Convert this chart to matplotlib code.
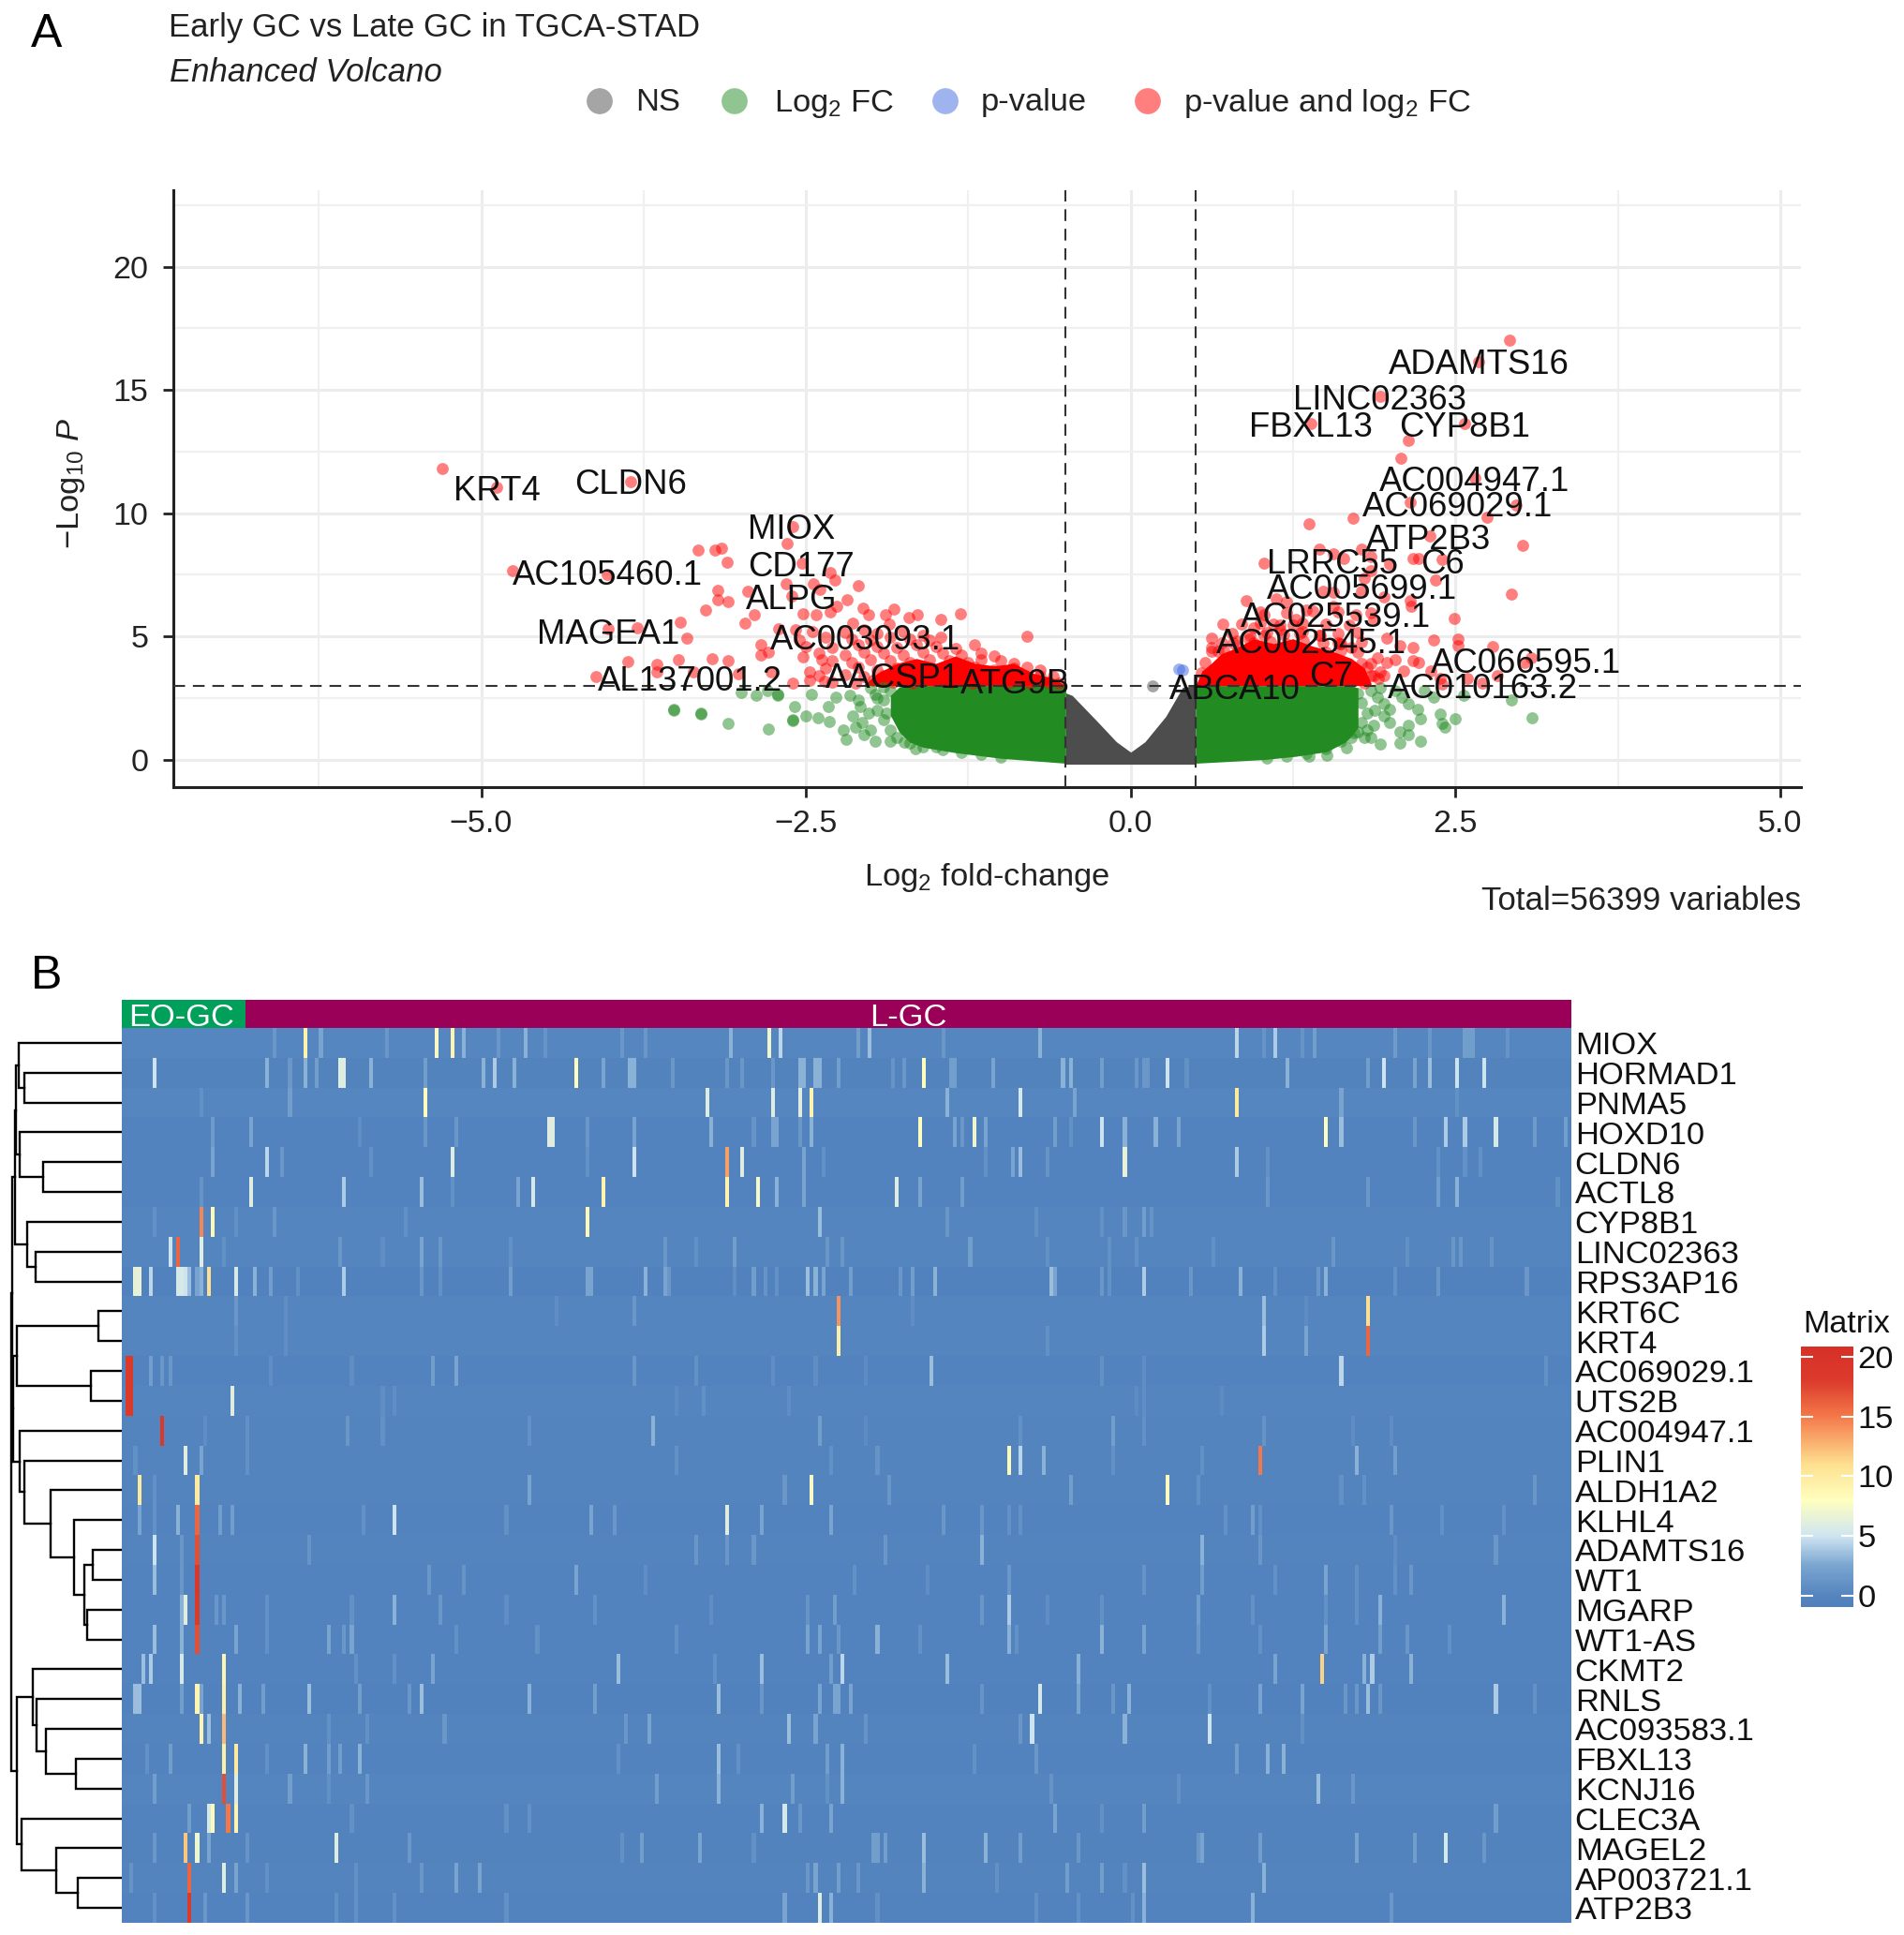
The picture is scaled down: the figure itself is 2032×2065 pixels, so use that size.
import matplotlib
matplotlib.use('Agg')
import matplotlib.pyplot as plt
from matplotlib.colors import LinearSegmentedColormap, Normalize
import numpy as np

plt.rcParams['font.family'] = ['Liberation Sans', 'DejaVu Sans']
plt.rcParams['mathtext.fontset'] = 'custom'
plt.rcParams['mathtext.rm'] = 'Liberation Sans'
plt.rcParams['mathtext.it'] = 'Liberation Sans:italic'
plt.rcParams['mathtext.default'] = 'regular'

W, H = 2032, 2065

# ---- volcano: single points
red_x = [-5.3, -4.88, -3.85, -4.76, -4.03, -3.33, -3.2, -3.15, -3.11, -2.6, -2.645, -2.53, -2.31, -2.28, -2.1,
         -2.65, -2.44, -2.39, -3.18, -3.18, -3.1, -2.95, -3.27, -2.61, -2.18, -2.26, -2.31, -2.06, -1.82, -1.31,
         -2.52, -2.42, -2.9, -2.97, -3.47, -3.42, -3.8, -4.02, -1.46, -1.64, -1.71, -1.89, -2.02, -2.14, -1.86,
         -0.8, -1.2, -1.46, -2.71, -2.58, -2.85, -2.79, -2.85, -3.87, -3.48, -3.22, -3.1, -3.65, -3.65, -3.37,
         -4.12, -3.02, -2.77, -2.6, -2.52, -2.47, -2.47, -2.38, -2.36,
         -2.45, -2.2, -2.05, -1.95, -1.75, -1.6, -2.55, -2.35, -2.15, -2.0, -1.85, -1.7, -1.55,
         -2.5, -2.3, -2.1, -1.95, -1.8, -1.65, -1.5, -1.35, -2.4, -2.2, -2.05, -1.9, -1.75, -1.6, -1.45, -1.3, -1.15, -1.05,
         -2.3, -2.15, -2.0, -1.85, -1.7, -1.55, -1.4, -1.25, -1.15, -1.0, -0.9,
         -2.35, -2.1, -1.95, -1.8, -1.65, -1.5, -1.35, -1.2, -1.05, -0.9, -0.8, -0.7,
         -2.4, -2.2, -2.05, -1.9, -1.75, -1.6, -1.45, -1.3, -1.15, -1.0, -0.85, -0.7, -0.6,
         -2.3, -2.12, -1.98, -1.83, -1.68, -1.52, -1.38, -1.22, -1.08, -0.93, -0.78, -0.63, -0.55,
         2.92, 2.68, 1.92, 2.57, 1.39, 2.14, 2.08, 2.65, 2.15, 2.97, 2.74, 1.71, 1.37, 2.3, 3.02, 1.45, 1.78, 1.56,
         1.03, 1.64, 1.85, 2.17, 2.22, 2.4, 1.99, 1.85, 2.35, 1.8, 2.93, 1.48, 1.56, 1.78, 1.95, 2.15, 2.16, 0.89,
         1.12, 1.2, 2.49, 1.4, 1.56, 1.87, 0.71, 1.03, 1.27, 1.73, 0.62, 1.97, 2.33, 2.52, 2.52, 2.17, 2.79, 2.07,
         0.62, 1.97, 2.17, 2.22, 3.08, 3.03, 2.1, 2.04, 1.9, 2.31, 1.91, 2.38, 2.59, 2.71, 2.82, 2.4,
         0.57, 0.67, 0.79, 0.91, 1.03, 1.15, 1.32, 1.46, 1.61, 1.75, 1.85, 0.54, 1.87, 1.7, 1.6, 0.95, 1.1, 1.25,
         0.62, 0.72, 0.82, 0.95, 1.08, 1.22, 1.35, 1.5, 1.62,
         0.7, 0.82, 0.95, 1.08, 1.2, 1.33, 1.48, 1.62, 1.78,
         0.78, 0.92, 1.05, 1.18, 1.3, 1.45, 1.6, 1.75,
         0.85, 1.0, 1.15, 1.32, 1.5, 1.68,
         1.0, 1.2, 1.35, 1.6, 1.85,
         1.7, 1.78, 1.85, 1.92, 1.75, 1.82, 1.68, 1.8, 1.95]
red_y = [11.82, 11.03, 11.29, 7.67, 7.5, 8.49, 8.49, 8.58, 8.02, 9.44, 8.75, 7.98, 7.6, 7.29, 7.06,
         7.14, 7.12, 6.9, 6.87, 6.49, 6.39, 6.82, 6.05, 6.65, 6.49, 6.21, 5.98, 6.15, 6.11, 5.93,
         5.92, 5.89, 5.89, 5.55, 5.58, 4.92, 5.35, 5.3, 5.67, 5.89, 5.77, 5.89, 5.89, 5.55, 5.51,
         5.0, 4.66, 4.97, 5.32, 5.27, 4.66, 4.37, 4.25, 3.97, 4.06, 4.08, 4.03, 3.87, 3.55, 3.55,
         3.36, 3.48, 3.55, 3.1, 4.18, 3.55, 3.23, 4.05, 3.16,
         5.2, 5.15, 5.25, 5.1, 5.2, 5.05, 4.85, 4.95, 4.9, 4.85, 4.95, 4.9, 4.85,
         4.6, 4.55, 4.65, 4.6, 4.55, 4.65, 4.6, 4.5, 4.3, 4.25, 4.35, 4.3, 4.25, 4.35, 4.3, 4.25, 4.3, 4.2,
         4.0, 3.95, 4.05, 4.0, 3.95, 4.05, 4.0, 3.95, 4.05, 4.0, 3.9,
         3.7, 3.75, 3.65, 3.7, 3.75, 3.65, 3.7, 3.75, 3.65, 3.7, 3.75, 3.65,
         3.4, 3.45, 3.35, 3.4, 3.45, 3.35, 3.4, 3.45, 3.35, 3.4, 3.45, 3.4, 3.35,
         3.15, 3.1, 3.2, 3.15, 3.1, 3.2, 3.15, 3.1, 3.2, 3.15, 3.1, 3.15, 3.1,
         17.01, 16.16, 14.73, 13.62, 13.62, 12.93, 12.23, 11.41, 10.42, 10.33, 9.82, 9.8, 9.57, 9.06, 8.68, 8.55, 8.55, 8.36,
         7.98, 8.14, 8.24, 8.17, 8.14, 8.11, 7.92, 7.67, 7.29, 7.35, 6.72, 6.84, 6.78, 6.84, 6.59, 6.46, 6.21, 6.46,
         6.53, 6.4, 5.74, 6.02, 6.21, 5.7, 5.51, 5.89, 5.7, 5.89, 4.94, 4.94, 4.85, 4.88, 4.63, 4.56, 4.59, 4.63,
         4.56, 3.93, 4.03, 3.95, 4.12, 3.93, 3.61, 4.05, 4.12, 3.61, 3.3, 3.3, 3.3, 3.1, 3.42, 3.05,
         3.93, 4.4, 4.75, 4.9, 5.05, 5.25, 5.2, 5.05, 4.7, 4.35, 3.9, 3.5, 3.4, 4.55, 4.75, 5.35, 5.5, 5.45,
         4.4, 4.45, 4.35, 4.42, 4.38, 4.45, 4.4, 4.35, 4.42,
         4.75, 4.8, 4.72, 4.78, 4.7, 4.8, 4.75, 4.7, 4.78,
         5.1, 5.05, 5.15, 5.08, 5.12, 5.05, 5.1, 5.15,
         5.5, 5.55, 5.45, 5.52, 5.5, 5.45,
         6.0, 5.95, 6.05, 6.0, 5.95,
         3.6, 3.9, 3.4, 3.55, 3.25, 3.75, 3.3, 3.1, 3.4]
green_x = [1.85, 1.95, 1.99, 1.95, 2.09, 2.14, 2.21, 2.23, 2.14, 2.07, 1.99, 1.87, 1.92, 2.07, 2.23, 2.14, 2.38, 2.4,
           2.42, 2.5, 2.93, 3.09, 2.56, 2.33, 2.26, 1.85, 1.66, 1.75, 2.04, 1.9, 1.51, 1.37, 1.8,
           1.75, 1.78, 1.82, 1.78, 1.72, 1.62, 1.5, 1.35, 1.2, 1.05, 1.82, 1.88, 1.7, 1.92,
           -3.52, -3.52, -3.31, -3.31, -3.1, -2.79, -3.0, -2.88, -2.72, -2.72, -2.8, -2.6, -2.6, -2.59, -2.5, -2.41, -2.32,
           -2.46, -2.33, -2.27, -2.16, -2.21, -2.19, -2.14, -2.07, -1.97, -2.08, -1.97, -1.74, -1.66, -1.5,
           -1.85, -1.9, -1.95, -1.9, -1.85, -1.8, -1.7, -1.6, -1.45, -1.3, -1.15, -1.0,
           -2.0, -1.95, -1.88, -2.02, -2.1, -2.0, -1.9, -2.12, -2.05, -1.85]
green_y = [2.79, 2.28, 2.03, 1.77, 2.53, 2.28, 2.03, 1.65, 1.39, 1.14, 1.52, 1.39, 0.63, 0.66, 0.73, 1.01, 1.84, 1.46,
           1.33, 1.65, 2.43, 1.7, 2.6, 2.53, 2.79, 0.89, 0.48, 1.14, 2.79, 2.53, 0.19, 0.13, 0.89,
           2.7, 2.3, 1.9, 1.5, 1.1, 0.75, 0.45, 0.25, 0.12, 0.05, 1.2, 2.0, 0.9, 2.9,
           2.0, 2.05, 1.84, 1.88, 1.48, 1.23, 2.72, 2.6, 2.66, 2.62, 2.79, 1.58, 1.62, 2.15, 1.77, 1.71, 1.55,
           2.66, 2.15, 2.53, 2.6, 1.2, 0.82, 1.77, 1.52, 0.76, 2.15, 2.66, 0.7, 0.44, 0.5,
           2.8, 2.4, 2.0, 1.6, 1.2, 0.9, 0.65, 0.5, 0.4, 0.3, 0.2, 0.1,
           1.2, 2.5, 1.9, 1.9, 2.4, 2.9, 2.95, 1.3, 1.0, 0.75]
blue_x = [0.37, 0.4]
blue_y = [3.67, 3.62]
ns_x = [0.17]
ns_y = [2.98]

# ---- volcano: outline of the solid clouds
gray_x = [-0.5, -0.45, -0.26, -0.11, 0.0, 0.11, 0.27, 0.4, 0.5]
gray_top = [2.7, 2.6, 1.56, 0.72, 0.3, 0.72, 1.75, 2.93, 3.0]
gray_bottom = [-0.19, -0.19, -0.19, -0.19, -0.19, -0.19, -0.19, -0.19, -0.19]
green_left_x = [-1.85, -1.78, -1.7, -1.6, -1.35, -1.0, -0.5]
green_left_top = [2.6, 2.95, 3.0, 3.0, 3.0, 3.0, 3.0]
green_left_bottom = [1.8, 1.1, 0.7, 0.5, 0.28, 0.05, -0.15]
green_right_x = [0.5, 1.03, 1.27, 1.51, 1.65, 1.7, 1.75]
green_right_top = [3.0, 3.0, 3.0, 3.0, 3.0, 3.0, 2.9]
green_right_bottom = [-0.15, 0.0, 0.13, 0.32, 0.7, 0.95, 1.3]
red_left_x = [-2.05, -1.95, -1.8, -1.65, -1.5, -1.35, -1.2, -1.05, -0.9, -0.75, -0.6, -0.5]
red_left_top = [3.05, 3.5, 3.9, 4.1, 3.9, 4.2, 3.9, 3.8, 3.9, 3.5, 3.3, 3.0]
red_right_x = [0.5, 0.55, 0.62, 0.7, 0.8, 0.95, 1.1, 1.25, 1.4, 1.55, 1.7, 1.8, 1.85]
red_right_top = [3.0, 3.6, 3.9, 4.3, 4.5, 4.9, 4.7, 4.9, 4.6, 4.4, 4.1, 3.7, 3.1]

gene_names = ['KRT4', 'CLDN6', 'MIOX', 'CD177', 'ALPG', 'AC105460.1', 'MAGEA1', 'AC003093.1', 'AL137001.2',
              'AACSP1', 'ATG9B', 'ABCA10', 'C7', 'AC002545.1', 'AC025539.1', 'AC005699.1', 'LRRC55', 'C6',
              'ATP2B3', 'AC069029.1', 'AC004947.1', 'CYP8B1', 'FBXL13', 'LINC02363', 'ADAMTS16',
              'AC066595.1', 'AC010163.2']
gene_x = [-4.88, -3.85, -2.61, -2.54, -2.61, -4.03, -4.02, -2.04, -3.39, -1.83, -0.89, 0.8, 1.54, 1.39, 1.58, 1.78,
          1.55, 2.4, 2.29, 2.52, 2.65, 2.57, 1.39, 1.92, 2.68, 3.04, 2.71]
gene_y = [11.03, 11.29, 9.47, 7.95, 6.6, 7.6, 5.21, 4.98, 3.31, 3.42, 3.19, 2.98, 3.49, 4.82, 5.89, 7.03,
          8.05, 8.05, 9.06, 10.39, 11.41, 13.62, 13.62, 14.73, 16.16, 4.03, 3.0]

# ---- heatmap
row_names = ['MIOX', 'HORMAD1', 'PNMA5', 'HOXD10', 'CLDN6', 'ACTL8', 'CYP8B1', 'LINC02363', 'RPS3AP16', 'KRT6C',
             'KRT4', 'AC069029.1', 'UTS2B', 'AC004947.1', 'PLIN1', 'ALDH1A2', 'KLHL4', 'ADAMTS16', 'WT1', 'MGARP',
             'WT1-AS', 'CKMT2', 'RNLS', 'AC093583.1', 'FBXL13', 'KCNJ16', 'CLEC3A', 'MAGEL2', 'AP003721.1', 'ATP2B3']
n_cols = 375
group_sizes = [32, 343]
row_base = [0.1, -0.3, 0.1, -0.2, -0.2, -0.2, 0, 0, -0.5, 0.05, 0.05, -0.2, 0, -0.1, -0.1,
            -0.1, -0.2, -0.1, -0.2, -0.2, -0.2, -0.2, -0.45, -0.1, -0.2, 0, -0.2, -0.3, -0.1, -0.2]
# (sample column, value) for the stripes that stand out in each row
row_stripes = [
    [(39, 1.5), (47, 9), (51, 2.5), (68, 1.5), (81, 7.5), (85, 9), (88, 3), (97, 1.5), (104, 3), (109, 1.2), (129, 1.5),
     (135, 1.5), (157, 3), (167, 7), (170, 4.5), (190, 2), (193, 3.5), (212, 1.5), (237, 3), (288, 4.5), (295, 1.2),
     (298, 4), (308, 2), (305, 1.2), (329, 1.8), (338, 1.5), (347, 2), (348, 2), (349, 2), (358, 1.2)],
    [(8, 5), (37, 3), (43, 1.5), (47, 3), (50, 2), (56, 6), (57, 6), (64, 3), (78, 2), (93, 3), (96, 4), (101, 3),
     (117, 8), (124, 2.5), (132, 3), (131, 3), (142, 1.5), (156, 1.5), (160, 1.5), (168, 1.5), (175, 3), (176, 3),
     (180, 3), (179, 3), (185, 2), (199, 1.2), (202, 1.5), (207, 8), (214, 2), (215, 2), (225, 2.5), (243, 3), (245, 3),
     (253, 2), (264, 1.5), (262, 1.5), (265, 1.5), (270, 5), (275, 1), (301, 3), (322, 2), (326, 5), (334, 2.5),
     (338, 3.5), (345, 5), (352, 5)],
    [(43, 2), (20, 1), (78, 8), (151, 6), (168, 6), (175, 6), (178, 9), (213, 3), (232, 5.5), (246, 2.5), (288, 10),
     (315, 2.5), (345, 1)],
    [(23, 1.8), (33, 2.5), (78, 1.5), (86, 1.5), (110, 6), (111, 6), (120, 1.5), (61, 0.8), (132, 2.5), (152, 3),
     (163, 1.2), (168, 2.5), (169, 2.5), (175, 1.5), (178, 3), (206, 8), (215, 2.5), (217, 1.5), (220, 7), (223, 2.5),
     (241, 2), (245, 1), (253, 5), (259, 3), (267, 3), (273, 2.5), (311, 8), (315, 3.5), (334, 1.5), (342, 4), (347, 4),
     (355, 5.5), (365, 1.8), (373, 2)],
    [(23, 2.5), (37, 4.5), (41, 1.5), (64, 1), (85, 6), (120, 1), (132, 5), (156, 13.5), (160, 6), (176, 2.5), (181, 1),
     (223, 1), (230, 2.5), (232, 3.5), (239, 1.2), (259, 6.5), (288, 4), (296, 1), (340, 1), (347, 1), (351, 1)],
    [(20, 1.2), (33, 6), (57, 4), (77, 3.5), (85, 1), (102, 2.5), (106, 5.5), (124, 9), (156, 9), (164, 7.5), (169, 3),
     (176, 2.5), (200, 6), (206, 2.5), (217, 2), (296, 1.5), (322, 1.5), (340, 2), (345, 3), (371, 1)],
    [(8, 1), (20, 14.5), (23, 8.5), (29, 1), (39, 1.5), (73, 1), (120, 8.5), (180, 3.5), (213, 1.5), (236, 1), (259, 1.5),
     (264, 2), (266, 1.2), (253, 1)],
    [(12, 5), (14, 16), (20, 6), (26, 1), (56, 1.5), (77, 2.5), (82, 1.5), (67, 0.8), (100, 1), (140, 1.5), (148, 1),
     (158, 2), (182, 1.5), (186, 1.5), (219, 2), (239, 1), (255, 1), (262, 1), (282, 1), (313, 1.5), (332, 1), (344, 1.5),
     (346, 1.5), (354, 1.2)],
    [(3, 6.5), (4, 6.5), (7, 4.5), (14, 5.5), (15, 5.5), (16, 5), (17, 3.5), (19, 2.5), (20, 3), (22, 11), (29, 5.5),
     (34, 3), (38, 2), (45, 1), (57, 4), (77, 1.5), (82, 1), (100, 2), (120, 2.5), (121, 2.5), (135, 3), (140, 2.5),
     (141, 1.5), (158, 0.8), (163, 2), (166, 1.2), (169, 1), (177, 3.5), (179, 3), (181, 2.5), (188, 2), (201, 1.5),
     (204, 2), (210, 3), (240, 3.5), (241, 2.5), (253, 1.5), (255, 1), (264, 4), (276, 1.5), (289, 3), (298, 1),
     (309, 1.5), (311, 3), (329, 1), (340, 1.5), (363, 1.5)],
    [(29, 1.5), (42, 0.8), (112, 0.8), (132, 1.5), (185, 14), (204, 0.8), (295, 3.5), (306, 0.6), (322, 11)],
    [(29, 1), (42, 0.8), (185, 9.5), (239, 1), (295, 4), (306, 2.5), (322, 16)],
    [(1, 18), (2, 18), (7, 2), (10, 1.5), (12, 1.5), (38, 0.8), (59, 0.8), (80, 2), (86, 2.5), (132, 1.5), (148, 1),
     (168, 0.8), (179, 0.8), (192, 0.6), (209, 3.5), (253, 1), (264, 0.8), (315, 4.5), (368, 1)],
    [(1, 18), (2, 18), (28, 6), (67, 0.8), (70, 0.8), (143, 0.6), (150, 1), (172, 0.8), (262, 0.6), (264, 0.8), (284, 0.6)],
    [(10, 18.5), (21, 0.8), (32, 1), (58, 1.5), (67, 1), (105, 1), (137, 3), (180, 2), (192, 0.6), (232, 1), (256, 2),
     (264, 1), (295, 1.2), (318, 0.8), (328, 0.8)],
    [(3, 1), (16, 6), (20, 2.5), (32, 1), (143, 1), (183, 1), (195, 1.2), (229, 8.5), (232, 4.5), (238, 3), (256, 1),
     (279, 1), (294, 15), (319, 3), (329, 2)],
    [(4, 10), (8, 1), (19, 10), (105, 2.5), (171, 1.5), (178, 7.5), (198, 1.5), (245, 2), (270, 8), (278, 1), (315, 1),
     (321, 1), (365, 1.5)],
    [(4, 2.5), (8, 1), (14, 3), (19, 16), (25, 2), (28, 2), (62, 1), (70, 5), (99, 1), (121, 2.5), (127, 1.5), (156, 6),
     (165, 2.5), (183, 2.5), (212, 1.5), (222, 1.5), (229, 1), (232, 1), (285, 1), (292, 2), (294, 1), (328, 1.5),
     (341, 1), (357, 1)],
    [(8, 5), (15, 1.5), (19, 17), (48, 1.2), (148, 1.5), (156, 1.5), (163, 1.5), (197, 1.5), (222, 3), (279, 3), (294, 1.5),
     (329, 0.8), (355, 1.5)],
    [(8, 3.5), (15, 1.5), (19, 19), (79, 1.5), (88, 1.2), (117, 2.5), (135, 0.8), (189, 1), (208, 0.8), (229, 1.5),
     (264, 1.2), (279, 2), (298, 1), (311, 2.5), (319, 1), (329, 1), (333, 1.5)],
    [(15, 3), (16, 6), (19, 18), (24, 1.5), (26, 1.5), (37, 1), (59, 1), (70, 3), (82, 1.5), (99, 0.8), (122, 1), (152, 0.8),
     (177, 1.2), (184, 2), (222, 1.5), (229, 4), (239, 0.8), (253, 1), (278, 2), (292, 1), (311, 1), (319, 1), (325, 3),
     (357, 3)],
    [(8, 3.5), (15, 3), (19, 17), (29, 2.5), (37, 1), (53, 2.5), (57, 1.5), (59, 2.5), (86, 1), (107, 1), (143, 1),
     (177, 2.5), (180, 2.5), (185, 1.5), (195, 3), (206, 1), (229, 3), (231, 1), (253, 3), (264, 2.5), (278, 1.5), (294, 1),
     (311, 2.5), (325, 2), (332, 1.5), (343, 1)],
    [(5, 3.5), (7, 4), (15, 5.5), (26, 9), (60, 1), (70, 1), (80, 2.5), (128, 3.5), (153, 1), (165, 3.5), (183, 2),
     (186, 4.5), (213, 3.5), (247, 3), (298, 2.5), (310, 11.5), (321, 3), (323, 4), (333, 3)],
    [(3, 3.5), (4, 3.5), (15, 2), (19, 9), (20, 2.5), (26, 9.5), (30, 3), (36, 2), (48, 3.5), (61, 2), (74, 1.5), (77, 3.5),
     (105, 3), (122, 2), (154, 3.5), (165, 1.5), (180, 2.5), (184, 2.5), (185, 2.5), (188, 2.5), (222, 1.2), (237, 5.5),
     (247, 2.5), (256, 1.5), (260, 3), (281, 1), (294, 2.5), (305, 2.5), (316, 1.5), (319, 1.5), (322, 3.5), (325, 1.5),
     (355, 4), (365, 1)],
    [(20, 9), (22, 3.5), (26, 12.5), (53, 1), (63, 1), (83, 1.5), (130, 1.5), (136, 2.5), (172, 3.5), (179, 2.5), (192, 1.2),
     (232, 1.5), (235, 5), (259, 3), (281, 5), (305, 1)],
    [(6, 1), (12, 2), (26, 9.5), (29, 10), (37, 1), (47, 3), (53, 2), (56, 2), (61, 3), (128, 1), (154, 3.5), (159, 1),
     (182, 2), (186, 3), (220, 1), (236, 1.5), (288, 2), (296, 3), (300, 3)],
    [(8, 2), (26, 17), (29, 6), (43, 2), (53, 1), (63, 1.5), (138, 2), (154, 3), (173, 2), (182, 1), (186, 3), (240, 1.2),
     (273, 1), (309, 3.5), (318, 1.5)],
    [(17, 2), (22, 5.5), (23, 8.5), (27, 15), (29, 9), (59, 1), (99, 1), (105, 1), (165, 3), (171, 5.5), (175, 1.5),
     (183, 2.5), (241, 2.5), (253, 1), (264, 2), (355, 2)],
    [(8, 1.5), (16, 12), (19, 7), (22, 2.5), (32, 1.2), (55, 6), (74, 1.5), (129, 1), (134, 2), (149, 2.5), (163, 1),
     (194, 2), (195, 2), (197, 2), (207, 3.5), (223, 3), (232, 2), (247, 1.5), (278, 1.5), (279, 2.5), (294, 2), (319, 2.5),
     (334, 2), (342, 5.5), (352, 1.5)],
    [(2, 1.2), (17, 16), (26, 6), (29, 2.5), (37, 1), (60, 1), (77, 1.5), (86, 2.5), (92, 2.5), (177, 1.5), (179, 2.5),
     (185, 2), (190, 1.5), (207, 3), (226, 1), (244, 2), (253, 2), (259, 1), (264, 3.5), (295, 3)],
    [(8, 1), (17, 18), (21, 1.5), (32, 1.5), (55, 1), (60, 1), (70, 1), (99, 1), (171, 2.5), (180, 6), (183, 3), (195, 1),
     (236, 1), (247, 1), (261, 1), (264, 3), (292, 3), (328, 1.5)],
]
cbar_ticks = [0, 5, 10, 15, 20]
cmap_values = [-0.94, 0, 2.5, 5, 8, 11, 15, 18, 20.86]
cmap_colors = ['#4F80BC', '#5585BF', '#7AA5D0', '#CFE5F1', '#FFFFBF', '#FEE090', '#F4794A', '#DC3B2C', '#D73027']

# dendrogram merges, (child, child, height); leaves are 0-29, each merge takes the next id
merges = [(1, 2, 232), (0, 30, 247), (4, 5, 189), (3, 32, 244), (31, 33, 254), (7, 8, 205), (6, 35, 226), (34, 36, 256),
          (9, 10, 57), (11, 12, 74), (38, 39, 252), (17, 18, 70), (19, 20, 82), (41, 42, 90), (16, 43, 114), (15, 44, 170),
          (14, 45, 234), (13, 46, 244), (40, 47, 259), (37, 48, 262), (24, 25, 109), (23, 50, 182), (22, 51, 204),
          (21, 52, 212), (28, 29, 105), (27, 54, 157), (26, 55, 240), (53, 56, 252), (49, 57, 264)]


def px_axes(fig, left, top, right, bottom):
    return fig.add_axes([left / W, 1 - bottom / H, (right - left) / W, (bottom - top) / H])


fig = plt.figure(figsize=(W / 100, H / 100), dpi=100)

# ---- panel A
ax = px_axes(fig, 185, 203, 1922, 840)
ax.set_xlim(-7.37, 5.16)
ax.set_ylim(-1.12, 23.1)
ax.set_axisbelow(True)
ax.set_xticks([-5, -2.5, 0, 2.5, 5])
ax.set_xticklabels(['\u22125.0', '\u22122.5', '0.0', '2.5', '5.0'])
ax.set_yticks([0, 5, 10, 15, 20])
ax.set_xticks([-6.25, -3.75, -1.25, 1.25, 3.75], minor=True)
ax.set_yticks([2.5, 7.5, 12.5, 17.5, 22.5], minor=True)
ax.grid(which='major', color='#ECECEC', lw=2.2)
ax.grid(which='minor', color='#F0F0F0', lw=1.6)
ax.tick_params(which='major', labelsize=24.5, length=8, width=2, color='#222222', labelcolor='#222222')
ax.tick_params(axis='x', which='major', pad=9)
ax.tick_params(axis='y', which='major', pad=11)
ax.tick_params(which='minor', length=0)
for s in ['top', 'right']:
    ax.spines[s].set_visible(False)
for s in ['left', 'bottom']:
    ax.spines[s].set_linewidth(2.2)
    ax.spines[s].set_color('#222222')

ax.fill_between(gray_x, gray_bottom, gray_top, color='#4D4D4D', lw=0, zorder=2)
ax.fill_between(green_left_x, green_left_bottom, green_left_top, color='#228B22', lw=0, zorder=2)
ax.fill_between(green_right_x, green_right_bottom, green_right_top, color='#228B22', lw=0, zorder=2)
ax.fill_between(red_left_x, 3.0, red_left_top, color='#FF0000', lw=0, zorder=2)
ax.fill_between(red_right_x, 3.0, red_right_top, color='#FF0000', lw=0, zorder=2)
ax.scatter(green_x, green_y, s=85, color='#228B22', alpha=0.5, lw=0, zorder=3)
ax.scatter(red_x, red_y, s=85, color='#FF0000', alpha=0.5, lw=0, zorder=3)
ax.scatter(blue_x, blue_y, s=85, color='#4169E1', alpha=0.5, lw=0, zorder=3)
ax.scatter(ns_x, ns_y, s=85, color='#4D4D4D', alpha=0.5, lw=0, zorder=3)
ax.axhline(3, color='#333333', lw=1.5, dashes=(6, 4), zorder=4)
ax.axvline(-0.5, color='#333333', lw=1.5, dashes=(6, 4), zorder=4)
ax.axvline(0.5, color='#333333', lw=1.5, dashes=(6, 4), zorder=4)
for name, gx, gy in zip(gene_names, gene_x, gene_y):
    ax.text(gx, gy, name, fontsize=26.3, ha='center', va='center_baseline', color='#111111', zorder=5)

# ---- panel B, dendrogram
ax_tree = px_axes(fig, 10, 1097, 130, 2052)
ax_tree.set_xlim(268.8, 0)
ax_tree.set_ylim(30, 0)
ax_tree.axis('off')
pos = {i: (0, i + 0.5) for i in range(30)}
for i, (a, b, h) in enumerate(merges):
    ha_, ya = pos[a]
    hb, yb = pos[b]
    ax_tree.plot([ha_, h, h, hb], [ya, ya, yb, yb], color='black', lw=1.7, solid_joinstyle='miter', clip_on=False)
    pos[30 + i] = (h, (ya + yb) / 2)

# ---- panel B, group bar
ax_top = px_axes(fig, 130, 1067, 1677, 1097)
ax_top.set_xlim(0, n_cols)
ax_top.set_ylim(0, 1)
ax_top.axis('off')
ax_top.barh(0.5, group_sizes[0], height=1, left=0, color='#00A05A', lw=0)
ax_top.barh(0.5, group_sizes[1], height=1, left=group_sizes[0], color='#9B0058', lw=0)
ax_top.text(group_sizes[0] / 2 - 0.6, 0.47, 'EO-GC', color='white', fontsize=24.8, ha='center', va='center_baseline')
ax_top.text(group_sizes[0] + group_sizes[1] / 2, 0.47, 'L-GC', color='white', fontsize=24.8, ha='center', va='center_baseline')

# ---- panel B, heatmap
matrix = np.zeros((len(row_names), n_cols))
for r, base in enumerate(row_base):
    matrix[r, :] = base
    for col, val in row_stripes[r]:
        matrix[r, col] = val
vmin, vmax = cmap_values[0], cmap_values[-1]
cmap = LinearSegmentedColormap.from_list(
    'matrix', [((v - vmin) / (vmax - vmin), c) for v, c in zip(cmap_values, cmap_colors)])
norm = Normalize(vmin, vmax)
ax_hm = px_axes(fig, 130, 1097, 1677, 2052)
im = ax_hm.imshow(matrix, aspect='auto', cmap=cmap, norm=norm, interpolation='nearest')
ax_hm.set_xticks([])
ax_hm.set_yticks([])
for s in ax_hm.spines.values():
    s.set_visible(False)
for r, name in enumerate(row_names):
    ax_hm.text(n_cols + 0.4, r + 0.12, name, fontsize=24.8, color='#111111', ha='left', va='center', clip_on=False)

# ---- colour bar
cax = px_axes(fig, 1922, 1437, 1978, 1715)
cb = fig.colorbar(im, cax=cax)
cb.set_ticks(cbar_ticks)
cb.outline.set_visible(False)
cax.tick_params(axis='y', which='both', direction='in', left=True, right=True, color='white', width=1.5, length=9.5,
                labelsize=24.8, labelcolor='#111111', pad=3)
fig.text(1924 / W, 1 - 1422 / H, 'Matrix', fontsize=24.6, color='#111111', ha='left', va='baseline')

# ---- free text and the legend of panel A
ov = fig.add_axes([0, 0, 1, 1], facecolor='none')
ov.set_xlim(0, W)
ov.set_ylim(H, 0)
ov.axis('off')
ov.text(33, 32, 'A', fontsize=36, ha='left', va='center_baseline', color='black')
ov.text(33, 1037, 'B', fontsize=36, ha='left', va='center_baseline', color='black')
ov.text(180, 26, 'Early GC vs Late GC in TGCA-STAD', fontsize=24.95, ha='left', va='center_baseline', color='#222222')
ov.text(181, 74, 'Enhanced Volcano', fontsize=25, style='italic', ha='left', va='center_baseline', color='#222222')
ov.text(1053, 932, 'Log$_2$ fold-change', fontsize=24.8, ha='center', va='center_baseline', color='#222222')
ov.text(76, 516, '\u2212Log$_{10}$ $\\mathit{P}$', fontsize=24.8, rotation=90, ha='center', va='center', color='#222222')
ov.text(1922, 958, 'Total=56399 variables', fontsize=25.1, ha='right', va='center_baseline', color='#222222')
legend_x = [640, 784, 1009, 1225]
legend_c = ['#4D4D4D', '#228B22', '#4169E1', '#FF0000']
legend_t = ['NS', 'Log$_2$ FC', 'p-value', 'p-value and log$_2$ FC']
legend_tx = [678, 826, 1047, 1263]
ov.scatter(legend_x, [108] * 4, s=400, c=legend_c, alpha=0.5, lw=0)
for tx, label in zip(legend_tx, legend_t):
    ov.text(tx, 106, label, fontsize=24.8, ha='left', va='center_baseline', color='#222222')

fig.savefig('out.png', dpi=100)
